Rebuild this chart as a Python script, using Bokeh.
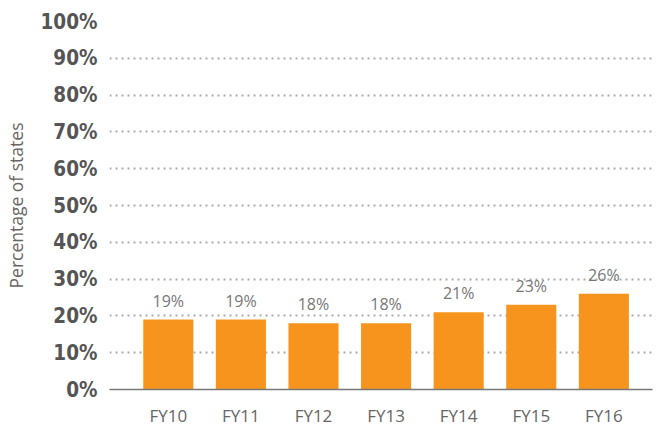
from bokeh.plotting import figure
from bokeh.models import ColumnDataSource, FixedTicker, Range1d
from bokeh.embed import file_html
from bokeh.resources import INLINE
from bokeh.core.properties import value

categories = ["FY10", "FY11", "FY12", "FY13", "FY14", "FY15", "FY16"]
percent_values = [19, 19, 18, 18, 21, 23, 26]
y_ticks = [0, 10, 20, 30, 40, 50, 60, 70, 80, 90, 100]

xs = list(range(len(categories)))
src = ColumnDataSource(dict(
    x=xs,
    top=percent_values,
    label=[f"{v}%" for v in percent_values],
))

p = figure(width=656, height=429, output_backend="svg", toolbar_location=None,
           x_range=Range1d(-0.81, 6.67), y_range=Range1d(0, 100),
           min_border_left=0, min_border_right=4, min_border_top=21, min_border_bottom=0)
p.outline_line_color = None
p.background_fill_color = "white"

p.vbar(x="x", top="top", width=0.69, bottom=0, source=src,
       fill_color="#F7941D", line_color=None)
p.text(x="x", y="top", text="label", source=src, text_align="center",
       text_baseline="bottom", y_offset=-8, text_font=value("Open Sans"),
       text_font_size="16px", text_color="#777777")

# y axis
p.yaxis.ticker = FixedTicker(ticks=y_ticks)
p.yaxis.major_label_overrides = {t: f"{t}%" for t in y_ticks}
p.yaxis.axis_line_color = None
p.yaxis.major_tick_line_color = None
p.yaxis.minor_tick_line_color = None
p.yaxis.major_label_text_font = "'DejaVu Sans Condensed', Roboto"
p.yaxis.major_label_text_font_style = "bold"
p.yaxis.major_label_text_font_size = "20.5px"
p.yaxis.major_label_text_color = "#555555"
p.yaxis.major_label_standoff = 6
p.yaxis.axis_label = "Percentage of states"
p.yaxis.axis_label_text_font = "Open Sans"
p.yaxis.axis_label_text_font_style = "normal"
p.yaxis.axis_label_text_font_size = "17.5px"
p.yaxis.axis_label_text_color = "#666666"
p.yaxis.axis_label_standoff = 10

# x axis
p.xaxis.ticker = FixedTicker(ticks=xs)
p.xaxis.major_label_overrides = {i: c for i, c in zip(xs, categories)}
p.xaxis.axis_line_color = "#777777"
p.xaxis.axis_line_width = 1.5
p.xaxis.major_tick_line_color = None
p.xaxis.minor_tick_line_color = None
p.xaxis.major_label_text_font = "Open Sans"
p.xaxis.major_label_text_font_size = "17px"
p.xaxis.major_label_text_color = "#666666"
p.xaxis.major_label_standoff = 8

p.xgrid.grid_line_color = None
p.ygrid.ticker = FixedTicker(ticks=y_ticks[1:])
p.ygrid.grid_line_color = "#aaaaaa"
p.ygrid.grid_line_dash = "2 4"
p.ygrid.grid_line_width = 2

open("out.html", "w").write(file_html(p, INLINE))
